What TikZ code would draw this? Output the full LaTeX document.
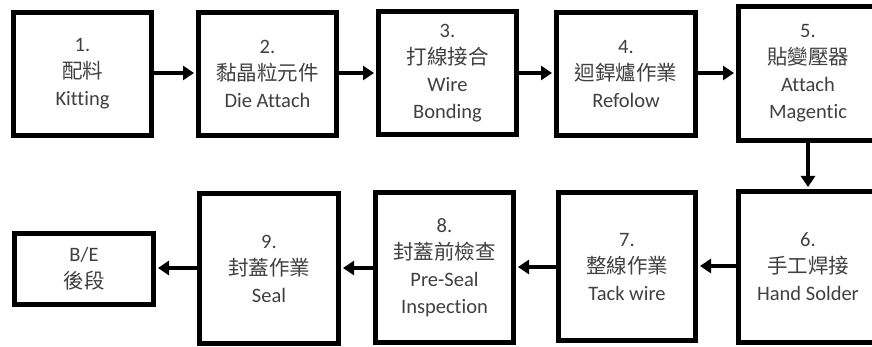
\documentclass[tikz,border=0pt]{standalone}
\usepackage{fontspec}
\setmainfont{Carlito}[Ligatures={NoCommon}]
\newfontfamily\cjk{Noto Sans CJK TC}
\usetikzlibrary{arrows.meta}
\definecolor{txt}{RGB}{64,64,64}
\tikzset{
  stepbox/.style={draw=black, line width=5pt, fill=white, align=center,
    text=txt, inner sep=0pt, font=\fontsize{20.5}{27}\selectfont},
  flow/.style={line width=4.5pt, -{Triangle[length=11pt,width=14pt]},
    shorten >=2pt},
}
\begin{document}
\begin{tikzpicture}[x=1pt,y=-1pt]
\useasboundingbox (0,0) rectangle (872,347);
% top row
\node[stepbox, minimum width=138pt, minimum height=123pt] (s1) at (82.5,74)
  {1.\\{\cjk 配料}\\Kitting};
\node[stepbox, minimum width=138pt, minimum height=123pt] (s2) at (267.5,74)
  {2.\\{\cjk 黏晶粒元件}\\Die Attach};
\node[stepbox, minimum width=138pt, minimum height=123pt] (s3) at (447.5,73)
  {3.\\{\cjk 打線接合}\\Wire\\Bonding};
\node[stepbox, minimum width=139pt, minimum height=123pt] (s4) at (626,74)
  {4.\\{\cjk 迴銲爐作業}\\Refolow};
\node[stepbox, minimum width=139pt, minimum height=134pt] (s5) at (808,73.5)
  {5.\\{\cjk 貼變壓器}\\Attach\\Magentic};
% bottom row
\node[stepbox, minimum width=139pt, minimum height=151pt] (s6) at (808,267)
  {6.\\{\cjk 手工焊接}\\Hand Solder};
\node[stepbox, minimum width=137pt, minimum height=148pt] (s7) at (627,266.5)
  {7.\\{\cjk 整線作業}\\Tack wire};
\node[stepbox, minimum width=138pt, minimum height=150pt] (s8) at (444.5,267.5)
  {8.\\{\cjk 封蓋前檢查}\\Pre-Seal\\Inspection};
\node[stepbox, minimum width=139pt, minimum height=150pt] (s9) at (269,268.5)
  {9.\\{\cjk 封蓋作業}\\Seal};
\node[stepbox, minimum width=139pt, minimum height=71pt] (be) at (84,269)
  {B/E\\{\cjk 後段}};
% connectors
\draw[flow] (s1.east |- 0,73) -- (s2.west |- 0,73);
\draw[flow] (s2.east |- 0,73) -- (s3.west |- 0,73);
\draw[flow] (s3.east |- 0,73) -- (s4.west |- 0,73);
\draw[flow] (s4.east |- 0,73) -- (s5.west |- 0,73);
\draw[flow] (s5.south) -- (s6.north);
\draw[flow] (s6.west |- 0,266) -- (s7.east |- 0,266);
\draw[flow] (s7.west |- 0,267) -- (s8.east |- 0,267);
\draw[flow] (s8.west |- 0,268) -- (s9.east |- 0,268);
\draw[flow] (s9.west |- 0,268) -- (be.east |- 0,268);
\end{tikzpicture}
\end{document}
